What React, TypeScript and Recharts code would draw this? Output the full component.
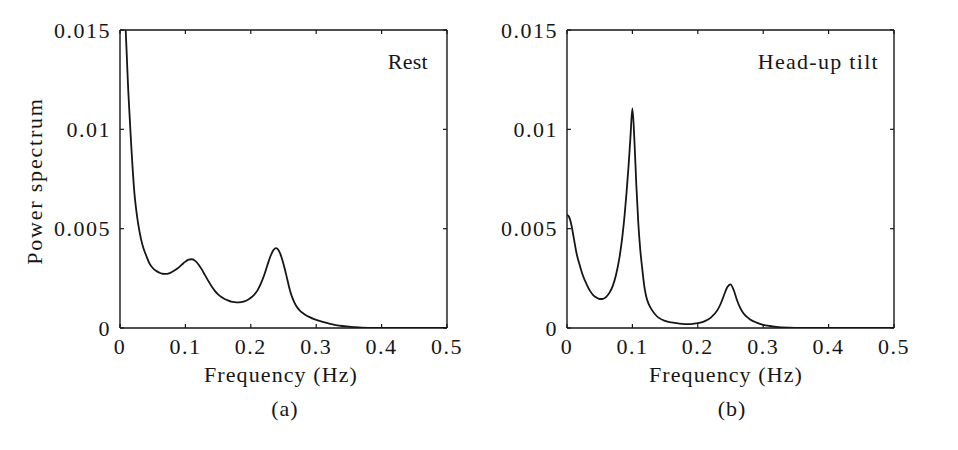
import React from 'react';
import { LineChart, Line, XAxis, YAxis } from 'recharts';

// ---- data ----
const restFreq = [
  0.006, 0.0087, 0.011, 0.0127, 0.015, 0.0168, 0.019, 0.022, 0.025, 0.028, 0.032, 0.036, 0.04, 0.045,
  0.05, 0.055, 0.06, 0.065, 0.07, 0.075, 0.08, 0.085, 0.09, 0.095, 0.1, 0.105, 0.11, 0.115, 0.12,
  0.125, 0.13, 0.135, 0.14, 0.145, 0.15, 0.155, 0.16, 0.165, 0.17, 0.175, 0.18, 0.185, 0.19, 0.195,
  0.2, 0.205, 0.21, 0.215, 0.22, 0.225, 0.23, 0.235, 0.2385, 0.242, 0.245, 0.25, 0.255, 0.26, 0.265,
  0.27, 0.275, 0.28, 0.285, 0.29, 0.295, 0.3, 0.31, 0.32, 0.33, 0.34, 0.35, 0.36, 0.37, 0.38, 0.4,
  0.45, 0.5,
];
const restPower = [
  0.0162, 0.015, 0.0132, 0.0119, 0.0105, 0.0094, 0.0082, 0.0068, 0.0059, 0.0052, 0.0045, 0.004, 0.00365, 0.00325,
  0.00302, 0.00288, 0.00279, 0.00273, 0.00272, 0.00275, 0.00283, 0.00293, 0.00305, 0.0032, 0.00334, 0.00344, 0.00346, 0.00338, 0.0032,
  0.00295, 0.00266, 0.00237, 0.0021, 0.00187, 0.00169, 0.00156, 0.00146, 0.00139, 0.00133, 0.0013, 0.00129, 0.0013, 0.00134, 0.00141,
  0.00152, 0.00167, 0.00188, 0.00221, 0.00262, 0.00312, 0.00361, 0.00394, 0.00402, 0.00394, 0.00374, 0.00322, 0.00256, 0.00188, 0.0014,
  0.00108, 0.00088, 0.00074, 0.00063, 0.00055, 0.00047, 0.00041, 0.00031, 0.00022, 0.00015, 0.0001, 0.00007, 0.00004, 0.00002, 0.00001, 0.000003,
  0, 0,
];

const tiltFreq = [
  0, 0.003, 0.006, 0.01, 0.015, 0.02, 0.025, 0.03, 0.035, 0.04, 0.045, 0.05, 0.055, 0.06, 0.065,
  0.07, 0.075, 0.08, 0.085, 0.088, 0.091, 0.094, 0.097, 0.1, 0.103, 0.106, 0.109, 0.112, 0.115, 0.118,
  0.121, 0.125, 0.13, 0.135, 0.14, 0.15, 0.16, 0.17, 0.18, 0.19, 0.2, 0.21, 0.22, 0.23, 0.235,
  0.24, 0.245, 0.25, 0.255, 0.26, 0.265, 0.27, 0.275, 0.28, 0.29, 0.3, 0.31, 0.32, 0.34, 0.36,
  0.4, 0.5,
];
const tiltPower = [
  0.0057, 0.0056, 0.0053, 0.0046, 0.0037, 0.0031, 0.00258, 0.0022, 0.00188, 0.00166, 0.00153, 0.00146, 0.00147, 0.00157, 0.00178,
  0.00212, 0.00268, 0.0035, 0.0047, 0.00565, 0.0068, 0.0081, 0.0096, 0.01106, 0.0095, 0.0072, 0.0053, 0.00395, 0.003, 0.00215,
  0.0016, 0.0012, 0.0009, 0.00068, 0.00052, 0.00036, 0.00028, 0.00023, 0.0002, 0.0002, 0.00024, 0.00033, 0.00052, 0.0009, 0.00122,
  0.00165, 0.00205, 0.0022, 0.0019, 0.0014, 0.001, 0.00073, 0.00056, 0.00043, 0.00027, 0.00016, 0.0001, 0.00006, 0.00002, 0.000006,
  0, 0,
];

const xTicks = [0, 0.1, 0.2, 0.3, 0.4, 0.5];
const xTickLabels = ['0', '0.1', '0.2', '0.3', '0.4', '0.5'];
const yTicks = [0, 0.005, 0.01, 0.015];
const yTickLabels = ['0', '0.005', '0.01', '0.015'];

const panelTitles = ['Rest', 'Head-up tilt'];
const captions = ['(a)', '(b)'];
const xAxisTitle = 'Frequency (Hz)';
const yAxisTitle = 'Power spectrum';

const FONT = '"Liberation Serif", "Times New Roman", serif';
const INK = '#161616';

const buildRows = (fs: number[], ps: number[]) => fs.map((f, i) => ({ f, p: ps[i] }));

const XTick = (props: any) => {
  const { x, y, payload } = props;
  const idx = xTicks.indexOf(payload.value);
  return (
    <text x={x} y={y} dy={20} textAnchor="middle" fill={INK}
      style={{ fontFamily: FONT, fontSize: 22, letterSpacing: 1.5 }}>
      {idx >= 0 ? xTickLabels[idx] : ''}
    </text>
  );
};

const YTick = (props: any) => {
  const { x, y, payload } = props;
  const idx = yTicks.indexOf(payload.value);
  return (
    <text x={x} y={y} dy={7.5} textAnchor="end" fill={INK}
      style={{ fontFamily: FONT, fontSize: 22, letterSpacing: 1.5 }}>
      {idx >= 0 ? yTickLabels[idx] : ''}
    </text>
  );
};

const Empty = () => <g />;

type PanelProps = { rows: { f: number; p: number }[]; left: number; marginLeft: number; marginRight: number };

const Panel = ({ rows, left, marginLeft, marginRight }: PanelProps) => (
  <div style={{ position: 'absolute', left, top: 0 }}>
    <LineChart width={479} height={450} data={rows}
      margin={{ top: 29, right: marginRight - 1, bottom: 92, left: marginLeft }}>
      <XAxis xAxisId="b" dataKey="f" type="number" domain={[0, 0.5]} ticks={xTicks}
        allowDataOverflow orientation="bottom" height={30}
        tickSize={-4} tickMargin={10} tick={<XTick />}
        axisLine={{ stroke: INK, strokeWidth: 1.4 }} tickLine={{ stroke: INK, strokeWidth: 1.2 }} />
      <XAxis xAxisId="t" dataKey="f" type="number" domain={[0, 0.5]} ticks={xTicks}
        allowDataOverflow orientation="top" height={1}
        tickSize={-4} tickMargin={0} tick={<Empty />}
        axisLine={{ stroke: INK, strokeWidth: 1.4 }} tickLine={{ stroke: INK, strokeWidth: 1.2 }} />
      <YAxis yAxisId="l" type="number" domain={[0, 0.015]} ticks={yTicks}
        allowDataOverflow orientation="left" width={70}
        tickSize={-4} tickMargin={13} tick={<YTick />}
        axisLine={{ stroke: INK, strokeWidth: 1.4 }} tickLine={{ stroke: INK, strokeWidth: 1.2 }} />
      <YAxis yAxisId="r" type="number" domain={[0, 0.015]} ticks={yTicks}
        allowDataOverflow orientation="right" width={1}
        tickSize={-4} tickMargin={0} tick={<Empty />}
        axisLine={{ stroke: INK, strokeWidth: 1.4 }} tickLine={{ stroke: INK, strokeWidth: 1.2 }} />
      <Line xAxisId="b" yAxisId="l" type="monotone" dataKey="p" stroke={INK} strokeWidth={1.8}
        dot={false} activeDot={false} isAnimationActive={false} />
    </LineChart>
  </div>
);

const textStyle = { fontFamily: FONT, fontSize: 22, fill: INK } as const;

export default function App() {
  return (
    <div style={{ position: 'absolute', left: 0, top: 0, width: 958, height: 450, background: '#fff' }}>
      <Panel rows={buildRows(restFreq, restPower)} left={0} marginLeft={50} marginRight={32} />
      <Panel rows={buildRows(tiltFreq, tiltPower)} left={479} marginLeft={18} marginRight={64} />
      <svg width={958} height={450} style={{ position: 'absolute', left: 0, top: 0, pointerEvents: 'none' }}>
        <text x={42} y={181} transform="rotate(-90 42 181)" textAnchor="middle"
          style={{ ...textStyle, letterSpacing: 1.8 }}>{yAxisTitle}</text>
        <text x={281} y={382} textAnchor="middle" style={{ ...textStyle, letterSpacing: 1.1 }}>{xAxisTitle}</text>
        <text x={726} y={382} textAnchor="middle" style={{ ...textStyle, letterSpacing: 1.1 }}>{xAxisTitle}</text>
        <text x={428} y={69} textAnchor="end" style={{ ...textStyle, letterSpacing: 0.3 }}>{panelTitles[0]}</text>
        <text x={879} y={68.5} textAnchor="end" style={{ ...textStyle, letterSpacing: 1.3 }}>{panelTitles[1]}</text>
        <text x={285} y={416} textAnchor="middle" style={{ ...textStyle, letterSpacing: 1 }}>{captions[0]}</text>
        <text x={732} y={416} textAnchor="middle" style={{ ...textStyle, letterSpacing: 1 }}>{captions[1]}</text>
      </svg>
    </div>
  );
}
